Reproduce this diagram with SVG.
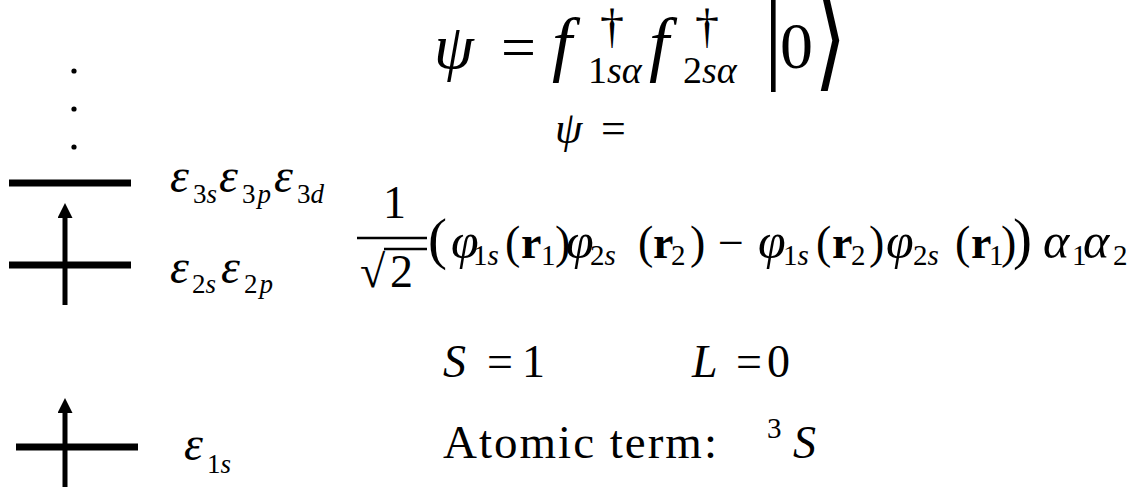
<svg xmlns="http://www.w3.org/2000/svg" width="1144" height="489" viewBox="0 0 1144 489">
<style>
.rm{font-family:"Liberation Serif","Times New Roman",serif;fill:#000}
.it{font-family:"Liberation Serif","Times New Roman",serif;font-style:italic;fill:#000}
.bf{font-family:"Liberation Serif","Times New Roman",serif;font-weight:bold;fill:#000}
.lvl{stroke:#000;stroke-width:7;fill:none}
.arr{stroke:#000;stroke-width:5;fill:none}
.m{font-size:46px}
.p{font-size:50px}
.s{font-size:29px}
.e{font-size:48px}
.es{font-size:27px}
</style>
<defs>
<marker id="ah" viewBox="0 0 10 10" refX="0" refY="5" markerUnits="userSpaceOnUse" markerWidth="15" markerHeight="15" orient="auto">
<path d="M0,0 L10,5 L0,10 z" fill="#000"/>
</marker>
</defs>
<rect width="1144" height="489" fill="#fff"/>

<g id="dots">
<circle cx="74" cy="71" r="2.6" fill="#000"/>
<circle cx="74" cy="109" r="2.6" fill="#000"/>
<circle cx="74" cy="147" r="2.6" fill="#000"/>
</g>

<g id="level3">
<line class="lvl" x1="9" y1="183" x2="131" y2="183"/>
<text class="it e" x="170" y="192">ε</text><text class="es" x="193" y="203"><tspan class="rm">3</tspan><tspan class="it">s</tspan></text>
<text class="it e" x="219" y="192">ε</text><text class="es" x="242" y="203"><tspan class="rm">3</tspan><tspan class="it" dx="2">p</tspan></text>
<text class="it e" x="274" y="192">ε</text><text class="es" x="297" y="203"><tspan class="rm">3</tspan><tspan class="it">d</tspan></text>
</g>

<g id="level2">
<line class="lvl" x1="9" y1="265" x2="131" y2="265"/>
<text class="it e" x="170" y="283">ε</text><text class="es" x="192" y="293"><tspan class="rm">2</tspan><tspan class="it">s</tspan></text>
<text class="it e" x="221" y="283">ε</text><text class="es" x="244" y="293"><tspan class="rm">2</tspan><tspan class="it" dx="2">p</tspan></text>
</g>

<g id="level1">
<line class="lvl" x1="16" y1="447" x2="138" y2="447"/>
<text class="it e" x="184" y="460">ε</text><text class="es" x="207" y="473"><tspan class="rm">1</tspan><tspan class="it">s</tspan></text>
</g>

<g id="connectors">
<line class="arr" x1="65" y1="305" x2="65" y2="218" marker-end="url(#ah)"/>
<line class="arr" x1="65" y1="487" x2="65" y2="413" marker-end="url(#ah)"/>
</g>

<g id="eq-top">
<text class="it" font-size="64" x="434" y="68">ψ</text>
<text class="rm" font-size="62" x="501" y="68">=</text>
<text class="it" font-size="72" x="552" y="68">f</text>
<text class="rm" font-size="48" x="612" y="42" text-anchor="middle">†</text>
<text font-size="38" x="588" y="83"><tspan class="rm">1</tspan><tspan class="it">sα</tspan></text>
<text class="it" font-size="72" x="649" y="68">f</text>
<text class="rm" font-size="48" x="707" y="42" text-anchor="middle">†</text>
<text font-size="38" x="683" y="83"><tspan class="rm">2</tspan><tspan class="it">sα</tspan></text>
<text class="rm" font-size="93" transform="translate(764,0) scale(1,1.25)" x="0" y="53.6">|</text>
<text class="rm" font-size="66" x="780" y="68">0</text>
<text font-family="DejaVu Serif, serif" font-size="84" transform="translate(814,0) scale(1,1.35)" x="0" y="56">⟩</text>
</g>

<g id="eq-psi">
<text class="it" font-size="44" x="555" y="143">ψ</text>
<text class="rm" font-size="44" x="601" y="143">=</text>
</g>

<g id="eq-wave">
<text class="rm m" x="383" y="218">1</text>
<line x1="357" y1="238" x2="427" y2="238" stroke="#000" stroke-width="2.5"/>
<text class="rm m" x="360" y="287">√</text>
<line x1="384" y1="249" x2="427" y2="249" stroke="#000" stroke-width="2.3"/>
<text class="rm m" x="390" y="287">2</text>
<text class="rm" font-size="57" x="428" y="258">(</text>
<text class="it p" x="451" y="258">φ</text><text class="s" x="473" y="265"><tspan class="rm">1</tspan><tspan class="it">s</tspan></text>
<text class="rm m" x="505" y="258">(</text><text class="bf m" x="521" y="258">r</text><text class="rm s" x="541" y="265">1</text><text class="rm m" x="555" y="258">)</text>
<text class="it p" x="566" y="258">φ</text><text class="s" x="590" y="265"><tspan class="rm">2</tspan><tspan class="it">s</tspan></text>
<text class="rm m" x="638" y="258">(</text><text class="bf m" x="653" y="258">r</text><text class="rm s" x="671" y="265">2</text><text class="rm m" x="690" y="258">)</text>
<text class="rm m" x="718" y="258">−</text>
<text class="it p" x="758" y="258">φ</text><text class="s" x="783" y="265"><tspan class="rm">1</tspan><tspan class="it">s</tspan></text>
<text class="rm m" x="816" y="258">(</text><text class="bf m" x="832" y="258">r</text><text class="rm s" x="851" y="265">2</text><text class="rm m" x="869" y="258">)</text>
<text class="it p" x="886" y="258">φ</text><text class="s" x="913" y="265"><tspan class="rm">2</tspan><tspan class="it">s</tspan></text>
<text class="rm m" x="955" y="258">(</text><text class="bf m" x="971" y="258">r</text><text class="rm s" x="989" y="265">1</text><text class="rm m" x="1001" y="258">)</text>
<text class="rm" font-size="57" x="1013" y="258">)</text>
<text class="it p" x="1043" y="258">α</text><text class="rm s" x="1072" y="265">1</text>
<text class="it p" x="1083" y="258">α</text><text class="rm s" x="1113" y="265">2</text>
</g>

<g id="eq-SL">
<text class="it m" x="443" y="377">S</text>
<text class="rm m" x="487" y="377">=</text>
<text class="rm m" x="522" y="377">1</text>
<text class="it m" x="692" y="377">L</text>
<text class="rm m" x="736" y="377">=</text>
<text class="rm m" x="767" y="377">0</text>
</g>

<g id="eq-term">
<text class="rm" font-size="47" x="443" y="458" textLength="274" lengthAdjust="spacing">Atomic term:</text>
<text class="rm s" x="767" y="438">3</text>
<text class="it m" x="793" y="458">S</text>
</g>
</svg>
